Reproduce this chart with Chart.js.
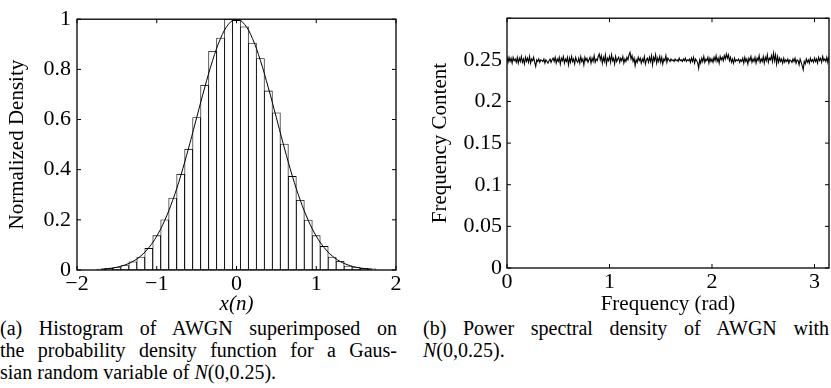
<!DOCTYPE html>
<html>
<head>
<meta charset="utf-8">
<script src="https://cdn.jsdelivr.net/npm/chart.js@4.4.1/dist/chart.umd.min.js"></script>
<style>
  body { margin: 0; background: #fff; width: 831px; height: 388px; position: relative; overflow: hidden; }
  canvas { position: absolute; top: 0; }
  #histChart { left: 0; }
  #psdChart { left: 420px; }
  .caption { position: absolute; font-family: 'Liberation Serif', 'DejaVu Serif', serif; font-size: 20px; line-height: 22px; color: #000; }
  .caption div.j { text-align: justify; text-align-last: justify; }
  #capA { left: 0; top: 317px; width: 397px; }
  #capB { left: 423px; top: 317px; width: 406px; }
</style>
</head>
<body>
<canvas id="histChart" width="410" height="317"></canvas>
<canvas id="psdChart" width="411" height="317"></canvas>
<div class="caption" id="capA">
  <div class="j">(a) Histogram of AWGN superimposed on</div>
  <div class="j">the probability density function for a Gaus-</div>
  <div>sian random variable of <i>N</i>(0,0.25).</div>
</div>
<div class="caption" id="capB">
  <div class="j">(b) Power spectral density of AWGN with</div>
  <div><i>N</i>(0,0.25).</div>
</div>
<script>
// histogram bins (centres) and normalized bar heights
const binCenters = [-1.7, -1.6, -1.5, -1.4, -1.3, -1.2, -1.1, -1.0, -0.9, -0.8, -0.7, -0.6, -0.5, -0.4, -0.3, -0.2, -0.1,
  0, 0.1, 0.2, 0.3, 0.4, 0.5, 0.6, 0.7, 0.8, 0.9, 1.0, 1.1, 1.2, 1.3, 1.4, 1.5, 1.6, 1.7];
const binHeights = [0.004, 0.007, 0.010, 0.018, 0.033, 0.052, 0.086, 0.137, 0.200, 0.287, 0.382, 0.482, 0.608, 0.737, 0.872, 0.925, 1.0,
  0.995, 0.970, 0.905, 0.843, 0.714, 0.627, 0.502, 0.373, 0.278, 0.199, 0.137, 0.094, 0.052, 0.035, 0.016, 0.010, 0.007, 0.005];
// gaussian pdf curve read at the same x positions
const pdfValues = [0.003, 0.006, 0.011, 0.020, 0.034, 0.056, 0.089, 0.135, 0.198, 0.278, 0.375, 0.487, 0.607, 0.726, 0.835, 0.923, 0.980,
  1.0, 0.980, 0.923, 0.835, 0.726, 0.607, 0.487, 0.375, 0.278, 0.198, 0.135, 0.089, 0.056, 0.034, 0.020, 0.011, 0.006, 0.003];

// power spectral density, one value every 0.01 rad from 0 to 3.14 (one row = 0.1 rad)
const psdValues = [
  0.254, 0.247, 0.253, 0.248, 0.252, 0.246, 0.253, 0.249, 0.251, 0.247,
  0.253, 0.246, 0.252, 0.248, 0.254, 0.247, 0.251, 0.245, 0.253, 0.248,
  0.252, 0.247, 0.254, 0.246, 0.251, 0.249, 0.253, 0.247, 0.242, 0.250,
  0.248, 0.251, 0.247, 0.250, 0.249, 0.248, 0.251, 0.246, 0.250, 0.248,
  0.246, 0.249, 0.251, 0.247, 0.250, 0.252, 0.248, 0.253, 0.246, 0.251,
  0.248, 0.253, 0.245, 0.252, 0.249, 0.254, 0.246, 0.251, 0.248, 0.253,
  0.244, 0.252, 0.247, 0.254, 0.248, 0.251, 0.245, 0.253, 0.249, 0.247,
  0.252, 0.246, 0.254, 0.248, 0.251, 0.244, 0.253, 0.249, 0.252, 0.247,
  0.250, 0.253, 0.246, 0.252, 0.248, 0.255, 0.247, 0.251, 0.249, 0.254,
  0.257, 0.250, 0.255, 0.246, 0.253, 0.248, 0.256, 0.245, 0.252, 0.249,
  0.254, 0.247, 0.256, 0.249, 0.252, 0.245, 0.254, 0.248, 0.251, 0.253,
  0.247, 0.252, 0.249, 0.254, 0.246, 0.251, 0.248, 0.253, 0.250, 0.256,
  0.259, 0.251, 0.255, 0.248, 0.252, 0.243, 0.250, 0.247, 0.253, 0.249,
  0.252, 0.246, 0.251, 0.248, 0.254, 0.245, 0.250, 0.252, 0.247, 0.253,
  0.248, 0.255, 0.244, 0.253, 0.249, 0.256, 0.246, 0.252, 0.248, 0.254,
  0.247, 0.253, 0.245, 0.251, 0.249, 0.255, 0.247, 0.252, 0.250, 0.248,
  0.251, 0.249, 0.250, 0.248, 0.251, 0.249, 0.250, 0.248, 0.252, 0.249,
  0.250, 0.248, 0.251, 0.249, 0.252, 0.248, 0.250, 0.249, 0.251, 0.247,
  0.252, 0.248, 0.253, 0.246, 0.251, 0.249, 0.247, 0.240, 0.250, 0.246,
  0.252, 0.248, 0.254, 0.247, 0.251, 0.249, 0.253, 0.246, 0.252, 0.248,
  0.251, 0.247, 0.253, 0.249, 0.255, 0.248, 0.252, 0.246, 0.254, 0.250,
  0.253, 0.249, 0.255, 0.251, 0.257, 0.252, 0.256, 0.249, 0.253, 0.247,
  0.251, 0.246, 0.252, 0.248, 0.250, 0.249, 0.251, 0.247, 0.250, 0.248,
  0.252, 0.246, 0.253, 0.248, 0.251, 0.245, 0.252, 0.249, 0.254, 0.247,
  0.251, 0.248, 0.253, 0.246, 0.252, 0.249, 0.255, 0.247, 0.251, 0.248,
  0.254, 0.246, 0.253, 0.249, 0.256, 0.247, 0.252, 0.250, 0.255, 0.248,
  0.258, 0.249, 0.256, 0.245, 0.254, 0.247, 0.252, 0.248, 0.251, 0.246,
  0.252, 0.247, 0.250, 0.248, 0.251, 0.246, 0.250, 0.249, 0.247, 0.251,
  0.248, 0.252, 0.246, 0.250, 0.249, 0.244, 0.251, 0.247, 0.243, 0.238,
  0.248, 0.245, 0.251, 0.247, 0.250, 0.246, 0.252, 0.248, 0.250, 0.247,
  0.252, 0.248, 0.251, 0.246, 0.253, 0.249, 0.252, 0.247, 0.254, 0.249,
  0.251, 0.248, 0.253, 0.247, 0.254
];
const psdFreq = psdValues.map((_, i) => i * 0.01);

Chart.defaults.font.family = "'Liberation Serif', 'DejaVu Serif', serif";
Chart.defaults.font.size = 21;
Chart.defaults.color = '#000';
Chart.defaults.animation = false;

// MATLAB style box with inward tick marks
const boxTicks = {
  id: 'boxTicks',
  afterDatasetsDraw(chart) {
    const { ctx, chartArea: a, scales: { x, y } } = chart;
    ctx.save();
    ctx.strokeStyle = '#000';
    ctx.lineWidth = 1;
    ctx.beginPath();
    x.ticks.forEach(t => {
      const px = x.getPixelForValue(t.value);
      ctx.moveTo(px, a.bottom); ctx.lineTo(px, a.bottom - 4);
      ctx.moveTo(px, a.top); ctx.lineTo(px, a.top + 4);
    });
    y.ticks.forEach(t => {
      const py = y.getPixelForValue(t.value);
      ctx.moveTo(a.left, py); ctx.lineTo(a.left + 4, py);
      ctx.moveTo(a.right, py); ctx.lineTo(a.right - 4, py);
    });
    ctx.stroke();
    ctx.lineWidth = 1.3;
    ctx.strokeRect(a.left, a.top, a.right - a.left, a.bottom - a.top);
    ctx.restore();
  }
};

const minus = v => String(Math.round(v * 100) / 100).replace('-', '\u2212');
const tickFont = { size: 22 };

new Chart(document.getElementById('histChart'), {
  type: 'bar',
  data: {
    datasets: [{
      type: 'line',
      data: binCenters.map((x, i) => ({ x: x, y: pdfValues[i] })),
      borderColor: '#000',
      borderWidth: 1,
      pointRadius: 0,
      tension: 0.4,
      order: 0
    }, {
      type: 'bar',
      data: binCenters.map((x, i) => ({ x: x, y: binHeights[i] })),
      backgroundColor: '#fff',
      borderColor: '#000',
      borderWidth: 0.85,
      borderSkipped: false,
      categoryPercentage: 1,
      barPercentage: 1,
      order: 1
    }]
  },
  options: {
    responsive: false,
    layout: { padding: { left: 0, top: 14, right: 14, bottom: 0 } },
    plugins: { legend: { display: false }, tooltip: { enabled: false } },
    scales: {
      x: {
        type: 'linear',
        offset: false,
        min: -2, max: 2,
        grid: { display: false, drawTicks: false },
        border: { display: false },
        ticks: { stepSize: 1, padding: 1, font: tickFont, callback: minus },
        title: { display: true, text: 'x(n)', font: { style: 'italic', size: 21 }, padding: 0 },
        afterFit: s => { s.height = 47; }
      },
      y: {
        min: 0, max: 1,
        grid: { display: false, drawTicks: false },
        border: { display: false },
        ticks: { stepSize: 0.2, padding: 6, font: tickFont, callback: minus },
        title: { display: true, text: 'Normalized Density', padding: { top: 5, bottom: 0 } },
        afterFit: s => { s.width = 77; }
      }
    }
  },
  plugins: [boxTicks]
});

new Chart(document.getElementById('psdChart'), {
  type: 'line',
  data: {
    datasets: [{
      data: psdFreq.map((f, i) => ({ x: f, y: psdValues[i] })),
      borderColor: '#000',
      borderWidth: 1.1,
      pointRadius: 0,
      tension: 0
    }]
  },
  options: {
    responsive: false,
    layout: { padding: { left: 0, top: 12, right: 2, bottom: 0 } },
    plugins: { legend: { display: false }, tooltip: { enabled: false } },
    scales: {
      x: {
        type: 'linear',
        min: 0, max: Math.PI,
        grid: { display: false, drawTicks: false },
        border: { display: false },
        ticks: { stepSize: 1, includeBounds: false, padding: 1, font: tickFont, callback: minus },
        title: { display: true, text: 'Frequency (rad)', padding: 0 },
        afterFit: s => { s.height = 49; }
      },
      y: {
        min: 0, max: 0.3,
        grid: { display: false, drawTicks: false },
        border: { display: false },
        ticks: { stepSize: 0.05, padding: 5, font: tickFont, callback: v => (v > 0.29 ? '' : minus(v)) },
        title: { display: true, text: 'Frequency Content', padding: { top: 8, bottom: 0 } },
        afterFit: s => { s.width = 87; }
      }
    }
  },
  plugins: [boxTicks]
});
</script>
</body>
</html>
